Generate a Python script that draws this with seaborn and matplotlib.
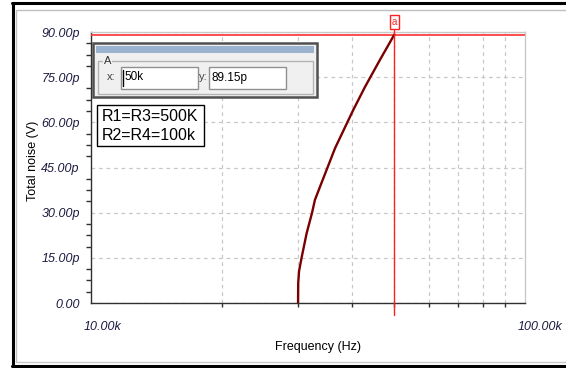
import matplotlib
matplotlib.use("Agg")
import matplotlib.pyplot as plt
import matplotlib.transforms as mtransforms
from matplotlib.patches import Rectangle
from matplotlib.lines import Line2D
from matplotlib.ticker import FixedLocator, MultipleLocator, FuncFormatter
import seaborn as sns

# courbe de bruit total
freq_khz = [30.0, 30.02, 30.15, 30.6, 31.4, 32.3, 32.8, 33.7, 34.9, 36.5, 39.2, 40.2, 42.8, 46.3, 50.0]
noise_pv = [0.0, 6.5, 10.5, 15.4, 23.2, 29.9, 34.2, 38.6, 44.2, 51.4, 60.8, 64.1, 71.8, 80.7, 89.15]

cursor_x_khz = 50.0
cursor_y_pv = 89.15
cursor_x_text = "50k"
cursor_y_text = "89.15p"

x_major = [10e3, 100e3]
x_major_labels = ["10.00k", "100.00k"]
x_minor = [20e3, 30e3, 40e3, 50e3, 60e3, 70e3, 80e3, 90e3]
params_lines = ["R1=R3=500K", "R2=R4=100k"]

sns.set_style("white")
plt.rcParams['font.family'] = ['Liberation Sans', 'DejaVu Sans']

W, H = 566, 368
fig = plt.figure(figsize=(W / 100, H / 100), dpi=100)
ax = fig.add_axes([91 / W, 1 - 303 / H, 434 / W, 271 / H])

freq_hz = [f * 1000 for f in freq_khz]
sns.lineplot(x=freq_hz, y=noise_pv, ax=ax, color="#7a0000", linewidth=1.7,
             estimator=None, sort=False, zorder=5)

ax.set_xscale('log')
ax.set_xlim(10e3, 100e3)
ax.set_ylim(0, 90)

# axes x
ax.xaxis.set_major_locator(FixedLocator(x_major))
ax.xaxis.set_minor_locator(FixedLocator(x_minor))
ax.set_xticklabels(x_major_labels)
ax.xaxis.set_minor_formatter(FuncFormatter(lambda v, p: ""))
# axes y
ax.yaxis.set_major_locator(MultipleLocator(15))
ax.yaxis.set_minor_locator(MultipleLocator(3.75))
ax.yaxis.set_major_formatter(FuncFormatter(lambda v, p: "0.00" if v == 0 else "%.2fp" % v))

ax.tick_params(axis='y', which='major', length=7.5, width=1, color='#303030', pad=0.5,
               labelsize=9, labelcolor='#1a1a40')
ax.tick_params(axis='y', which='minor', length=3.8, width=1, color='#303030', left=True)
ax.tick_params(axis='x', which='major', length=6.5, width=1, color='#303030', pad=6.5,
               labelsize=9, labelcolor='#1a1a40')
ax.tick_params(axis='x', which='minor', length=3, width=1, color='#303030', bottom=True)
for lbl in ax.get_yticklabels():
    lbl.set_fontstyle('italic')
shift = mtransforms.ScaledTranslation(-7 / 100, 0, fig.dpi_scale_trans)
for lbl in ax.get_xticklabels():
    lbl.set_fontstyle('italic')
    lbl.set_horizontalalignment('left')
    lbl.set_transform(lbl.get_transform() + shift)

# grille pointillée
ax.xaxis.grid(True, which='minor', color='#c8c8c8', linestyle=(0, (3, 3)), linewidth=0.9)
ax.yaxis.grid(True, which='major', color='#c8c8c8', linestyle=(0, (3, 3)), linewidth=0.9)
ax.xaxis.grid(False, which='major')

for s in ['left', 'bottom']:
    ax.spines[s].set_color('#303030')
    ax.spines[s].set_linewidth(1)
for s in ['top', 'right']:
    ax.spines[s].set_color('#c8c8c8')
    ax.spines[s].set_linewidth(1)

ax.set_xlabel("Frequency (Hz)", fontsize=9, color='black')
ax.set_ylabel("Total noise (V)", fontsize=9, color='black')
ax.xaxis.set_label_coords(0.523, -0.14)
ax.yaxis.set_label_coords(-0.12, 0.526)

# curseur a
cx = cursor_x_khz * 1000
ax.axhline(cursor_y_pv, color='#ff3030', linewidth=1.2, zorder=4)
trans = mtransforms.blended_transform_factory(ax.transData, ax.transAxes)
ax.add_line(Line2D([cx, cx], [-12 / 271, 1 + 2 / 271], transform=trans, color='#ff2020',
                   linewidth=1, clip_on=False, zorder=6))
ax.text(cx, 1 + 10 / 271, "a", transform=trans, ha='center', va='center', fontsize=7,
        color='#ff2020', zorder=7,
        bbox=dict(boxstyle='square,pad=0.2', fc='white', ec='#ff2020', lw=1))


def px(x, y):
    return (x / W, 1 - y / H)


def box(x0, y0, x1, y1, **kw):
    r = Rectangle(px(x0, y1), (x1 - x0) / W, (y1 - y0) / H, transform=fig.transFigure, **kw)
    fig.add_artist(r)


# fenêtre du curseur A
box(93, 43, 317, 97, fc='#f0f0f0', ec='#505050', lw=1.8, zorder=10)
box(96, 46, 314, 53, fc='#9bb3cf', ec='none', zorder=11)
box(98, 61, 313, 94, fc='none', ec='#b4b4b4', lw=1, zorder=11)
fig.text(*px(104, 61), "A", fontsize=8, color='#333333', va='center', ha='left', zorder=12,
         bbox=dict(boxstyle='square,pad=0.05', fc='#f0f0f0', ec='none'))
fig.text(*px(107, 77), "x:", fontsize=8, color='#404040', va='center', ha='left', zorder=12)
box(121, 67, 198, 89, fc='white', ec='#909090', lw=1, zorder=11)
fig.text(*px(124, 77.5), cursor_x_text, fontsize=8.5, color='black', va='center', ha='left', zorder=12)
fig.add_artist(Line2D([px(123, 0)[0]] * 2, [px(0, 70)[1], px(0, 86)[1]], transform=fig.transFigure,
                      color='black', lw=1, zorder=13))
fig.text(*px(199, 77), "y:", fontsize=8, color='#404040', va='center', ha='left', zorder=12)
box(209, 67, 286, 89, fc='white', ec='#909090', lw=1, zorder=11)
fig.text(*px(212, 77.5), cursor_y_text, fontsize=8.5, color='black', va='center', ha='left', zorder=12)

# encadré des résistances
box(97, 105, 204, 146, fc='white', ec='black', lw=1, zorder=10)
fig.text(*px(102, 116), params_lines[0], fontsize=11.5, color='black', va='center', ha='left', zorder=12)
fig.text(*px(102, 136), params_lines[1], fontsize=11.5, color='black', va='center', ha='left', zorder=12)

# cadre de la fenêtre
for (xs, ys, c, w) in [((12, 566), (3, 3), 'black', 2.2),
                       ((12.5, 12.5), (3, 366), 'black', 2.2),
                       ((12, 566), (366, 366), 'black', 2.2),
                       ((17, 566), (10, 10), '#c0c0c0', 1),
                       ((16, 16), (10, 362), '#c0c0c0', 1),
                       ((17, 566), (362, 362), '#c8c8c8', 1)]:
    fig.add_artist(Line2D([xs[0] / W, xs[1] / W], [1 - ys[0] / H, 1 - ys[1] / H],
                          transform=fig.transFigure, color=c, lw=w, zorder=20))

fig.savefig("out.png", dpi=100)
